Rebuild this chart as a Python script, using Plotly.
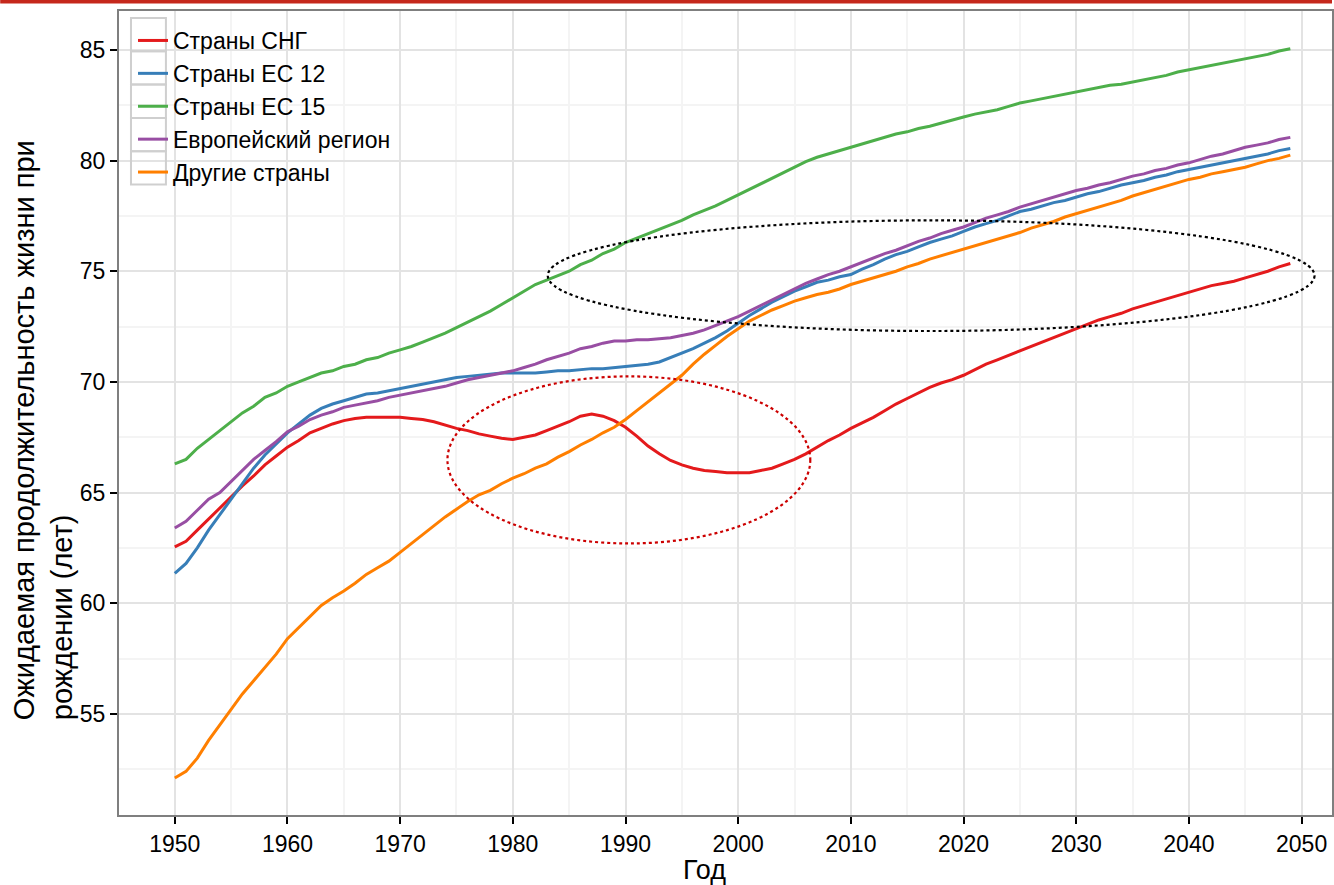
import plotly.graph_objects as go

years = list(range(1950, 2050))

series_names = ["Страны СНГ", "Страны ЕС 12", "Страны ЕС 15", "Европейский регион", "Другие страны"]
series_colors = ["#e41a1c", "#377eb8", "#4daf4a", "#984ea3", "#ff7f00"]

cis = [62.55, 62.8, 63.3, 63.8, 64.3, 64.8, 65.3, 65.75, 66.25, 66.65,
       67.05, 67.35, 67.7, 67.9, 68.1, 68.25, 68.35, 68.4, 68.4, 68.4,
       68.4, 68.35, 68.3, 68.2, 68.05, 67.9, 67.8, 67.65, 67.55, 67.45,
       67.4, 67.5, 67.6, 67.8, 68.0, 68.2, 68.45, 68.55, 68.45, 68.25,
       67.95, 67.55, 67.1, 66.75, 66.45, 66.25, 66.1, 66.0, 65.95, 65.9,
       65.9, 65.9, 66.0, 66.1, 66.3, 66.5, 66.75, 67.05, 67.35, 67.6,
       67.9, 68.15, 68.4, 68.7, 69.0, 69.25, 69.5, 69.75, 69.95, 70.1,
       70.3, 70.55, 70.8, 71.0, 71.2, 71.4, 71.6, 71.8, 72.0, 72.2,
       72.4, 72.6, 72.8, 72.95, 73.1, 73.3, 73.45, 73.6, 73.75, 73.9,
       74.05, 74.2, 74.35, 74.45, 74.55, 74.7, 74.85, 75.0, 75.2, 75.35]

eu12 = [61.35, 61.8, 62.5, 63.3, 64.0, 64.7, 65.4, 66.1, 66.7, 67.2,
        67.7, 68.1, 68.5, 68.8, 69.0, 69.15, 69.3, 69.45, 69.5, 69.6,
        69.7, 69.8, 69.9, 70.0, 70.1, 70.2, 70.25, 70.3, 70.35, 70.4,
        70.4, 70.4, 70.4, 70.45, 70.5, 70.5, 70.55, 70.6, 70.6, 70.65,
        70.7, 70.75, 70.8, 70.9, 71.1, 71.3, 71.5, 71.75, 72.0, 72.3,
        72.65, 73.0, 73.3, 73.6, 73.85, 74.1, 74.3, 74.5, 74.6, 74.75,
        74.85, 75.1, 75.3, 75.55, 75.75, 75.9, 76.1, 76.3, 76.45, 76.6,
        76.8, 77.0, 77.15, 77.3, 77.5, 77.7, 77.8, 77.95, 78.1, 78.2,
        78.35, 78.5, 78.6, 78.75, 78.9, 79.0, 79.1, 79.25, 79.35, 79.5,
        79.6, 79.7, 79.8, 79.9, 80.0, 80.1, 80.2, 80.3, 80.45, 80.55]

eu15 = [66.3, 66.5, 67.0, 67.4, 67.8, 68.2, 68.6, 68.9, 69.3, 69.5,
        69.8, 70.0, 70.2, 70.4, 70.5, 70.7, 70.8, 71.0, 71.1, 71.3,
        71.45, 71.6, 71.8, 72.0, 72.2, 72.45, 72.7, 72.95, 73.2, 73.5,
        73.8, 74.1, 74.4, 74.6, 74.8, 75.0, 75.3, 75.5, 75.8, 76.0,
        76.3, 76.5, 76.7, 76.9, 77.1, 77.3, 77.55, 77.75, 77.95, 78.2,
        78.45, 78.7, 78.95, 79.2, 79.45, 79.7, 79.95, 80.15, 80.3, 80.45,
        80.6, 80.75, 80.9, 81.05, 81.2, 81.3, 81.45, 81.55, 81.7, 81.85,
        81.97, 82.1, 82.2, 82.3, 82.45, 82.6, 82.7, 82.8, 82.9, 83.0,
        83.1, 83.2, 83.3, 83.4, 83.45, 83.55, 83.65, 83.75, 83.85, 84.0,
        84.1, 84.2, 84.3, 84.4, 84.5, 84.6, 84.7, 84.8, 84.95, 85.05]

europe = [63.4, 63.7, 64.2, 64.7, 65.0, 65.5, 66.0, 66.5, 66.9, 67.3,
          67.75, 68.0, 68.3, 68.5, 68.65, 68.85, 68.95, 69.05, 69.15, 69.3,
          69.4, 69.5, 69.6, 69.7, 69.8, 69.95, 70.1, 70.2, 70.3, 70.4,
          70.5, 70.65, 70.8, 71.0, 71.15, 71.3, 71.5, 71.6, 71.75, 71.85,
          71.85, 71.9, 71.9, 71.95, 72.0, 72.1, 72.2, 72.35, 72.55, 72.75,
          72.95, 73.2, 73.45, 73.7, 73.95, 74.2, 74.45, 74.65, 74.85, 75.0,
          75.2, 75.4, 75.6, 75.8, 75.95, 76.15, 76.35, 76.5, 76.7, 76.85,
          77.0, 77.2, 77.4, 77.55, 77.7, 77.9, 78.05, 78.2, 78.35, 78.5,
          78.65, 78.75, 78.9, 79.0, 79.15, 79.3, 79.4, 79.55, 79.65, 79.8,
          79.9, 80.05, 80.2, 80.3, 80.45, 80.6, 80.7, 80.8, 80.95, 81.05]

others = [52.1, 52.4, 53.0, 53.8, 54.5, 55.2, 55.9, 56.5, 57.1, 57.7,
          58.4, 58.9, 59.4, 59.9, 60.25, 60.55, 60.9, 61.3, 61.6, 61.9,
          62.3, 62.7, 63.1, 63.5, 63.9, 64.25, 64.6, 64.9, 65.1, 65.4,
          65.65, 65.85, 66.1, 66.3, 66.6, 66.85, 67.15, 67.4, 67.7, 67.95,
          68.3, 68.7, 69.1, 69.5, 69.9, 70.3, 70.8, 71.25, 71.65, 72.05,
          72.4, 72.75, 73.0, 73.25, 73.45, 73.65, 73.8, 73.95, 74.05, 74.2,
          74.4, 74.55, 74.7, 74.85, 75.0, 75.2, 75.35, 75.55, 75.7, 75.85,
          76.0, 76.15, 76.3, 76.45, 76.6, 76.75, 76.95, 77.1, 77.25, 77.45,
          77.6, 77.75, 77.9, 78.05, 78.2, 78.4, 78.55, 78.7, 78.85, 79.0,
          79.15, 79.25, 79.4, 79.5, 79.6, 79.7, 79.85, 80.0, 80.1, 80.25]

x_ticks = [1950, 1960, 1970, 1980, 1990, 2000, 2010, 2020, 2030, 2040, 2050]
y_ticks = [55, 60, 65, 70, 75, 80, 85]

# highlighted regions (data coordinates)
red_ellipse = dict(x0=1974.2, x1=2006.4, y0=62.7, y1=70.25)
black_ellipse = dict(x0=1983.1, x1=2051.15, y0=72.3, y1=77.3)

FONT = "Liberation Sans, Arial, sans-serif"
W, H = 1334, 885
ML, MT, MB, MR = 119, 11, 70, 0
PW, PH = W - ML - MR, H - MT - MB


def px_x(p):
    return (p - ML) / PW


def px_y(p):
    return (H - MB - p) / PH


fig = go.Figure()
for name, color, vals in zip(series_names, series_colors, [cis, eu12, eu15, europe, others]):
    fig.add_trace(go.Scatter(x=years, y=vals, mode="lines", name=name,
                             line=dict(color=color, width=3)))

fig.add_shape(type="circle", xref="x", yref="y", **red_ellipse,
              line=dict(color="#cc0000", width=2.2, dash="dot"))
fig.add_shape(type="circle", xref="x", yref="y", **black_ellipse,
              line=dict(color="black", width=2.2, dash="dot"))

# top red strip
fig.add_shape(type="rect", xref="paper", yref="paper", x0=px_x(0), x1=px_x(W),
              y0=px_y(3.5), y1=px_y(0), fillcolor="#c5281c", line=dict(width=0), layer="above")

# legend key boxes
ITEM_H = 33.3
for i in range(len(series_names)):
    top = 18 + i * ITEM_H
    fig.add_shape(type="rect", xref="paper", yref="paper",
                  x0=px_x(131), x1=px_x(166), y0=px_y(top + ITEM_H), y1=px_y(top),
                  line=dict(color="#cfcfcf", width=2), fillcolor="rgba(0,0,0,0)", layer="above")

fig.add_annotation(xref="paper", yref="paper", x=px_x(43), y=px_y(430),
                   xanchor="center", yanchor="middle",
                   text="Ожидаемая продолжительность жизни при<br>рождении (лет)",
                   textangle=-90, showarrow=False, align="left",
                   font=dict(family=FONT, size=29, color="black"))
fig.add_annotation(xref="paper", yref="paper", x=px_x(705), y=px_y(870),
                   xanchor="center", yanchor="middle",
                   text="Год", showarrow=False,
                   font=dict(family=FONT, size=27, color="black"))

axis_common = dict(showline=True, linecolor="#7f7f7f", linewidth=2, mirror=True,
                   ticks="outside", tickcolor="black", ticklen=7, tickwidth=2,
                   showgrid=True, gridcolor="#e3e3e3", gridwidth=2,
                   zeroline=False,
                   tickfont=dict(family=FONT, size=23, color="black"))

fig.update_xaxes(range=[1945.05, 2052.7], tickvals=x_ticks,
                 minor=dict(dtick=5, tick0=1945, showgrid=True, gridcolor="#f4f4f4", gridwidth=1.5, ticks=""),
                 **axis_common)
fig.update_yaxes(range=[50.43, 86.76], tickvals=y_ticks,
                 minor=dict(dtick=2.5, tick0=52.5, showgrid=True, gridcolor="#f4f4f4", gridwidth=1.5, ticks=""),
                 **axis_common)

fig.update_layout(
    width=W, height=H,
    margin=dict(l=ML, r=MR, t=MT, b=MB),
    plot_bgcolor="white", paper_bgcolor="white",
    font=dict(family=FONT, color="black"),
    showlegend=True,
    legend=dict(x=px_x(133), y=px_y(19), xanchor="left", yanchor="top",
                bgcolor="rgba(0,0,0,0)", borderwidth=0,
                font=dict(family=FONT, size=23, color="black"),
                itemwidth=30),
)

fig.write_html("out.html", config={"displayModeBar": False},
               post_script="document.body.style.margin='0';")
